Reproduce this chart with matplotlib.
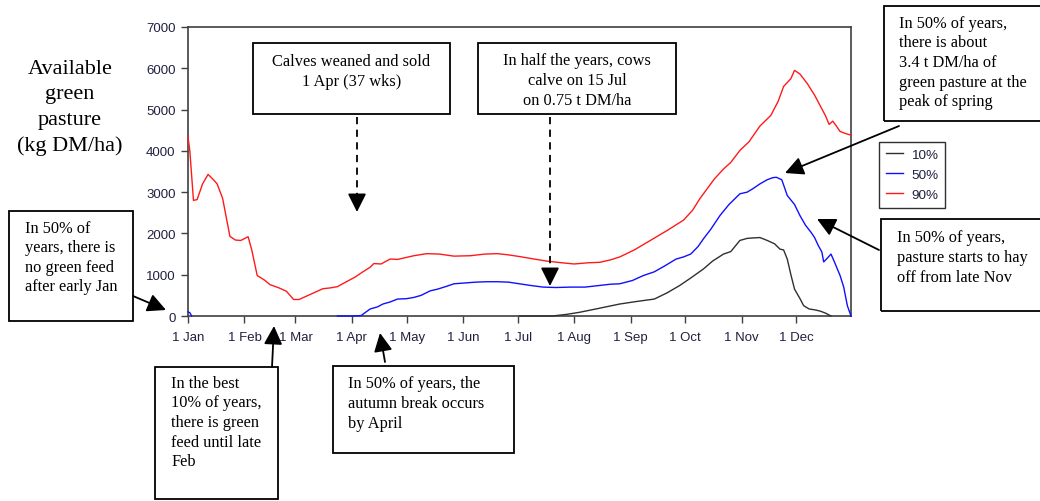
import numpy as np
import matplotlib
matplotlib.use("Agg")
import matplotlib.pyplot as plt
from matplotlib.patches import Rectangle, FancyArrowPatch
from matplotlib.lines import Line2D

# day of year (0 = 1 Jan) and available green pasture (kg DM/ha)
red_day = [0, 1, 3, 5, 8, 11, 14, 16, 19, 23, 26, 29, 33, 35, 38, 42, 45, 50, 54, 58,
           61, 65, 69, 74, 78, 82, 87, 92, 96, 100, 102, 106, 111, 115, 124, 131, 138, 146, 155, 163,
           170, 176, 182, 190, 197, 205, 212, 220, 226, 232, 237, 245, 255, 263, 272, 277, 281, 285, 289, 294,
           298, 303, 308, 314, 320, 324, 327, 331, 333, 336, 340, 344, 347, 350, 352, 354, 356, 358, 361, 364]
red_val = [4340, 4000, 2800, 2820, 3200, 3430, 3300, 3200, 2850, 1930, 1840, 1830, 1920, 1600, 980, 870, 760, 680, 600, 400,
           400, 480, 560, 660, 680, 710, 830, 950, 1070, 1180, 1270, 1260, 1380, 1370, 1460, 1510, 1500, 1450, 1460, 1500,
           1510, 1480, 1440, 1380, 1330, 1290, 1260, 1290, 1300, 1360, 1430, 1600, 1860, 2070, 2320, 2560, 2840, 3080, 3320, 3560,
           3720, 4010, 4220, 4600, 4860, 5200, 5560, 5750, 5950, 5860, 5630, 5350, 5100, 4850, 4640, 4720, 4600, 4470, 4420, 4380]

blue_day = [0, 1, 2, 3, 82, 90, 95, 100, 104, 107, 111, 115, 120, 124, 128, 133, 137, 142, 146, 152,
            158, 164, 170, 176, 182, 188, 195, 202, 210, 218, 226, 232, 237, 244, 250, 256, 262, 268, 272, 276,
            280, 283, 287, 292, 297, 303, 307, 310, 314, 318, 321, 323, 326, 329, 333, 336, 339, 342, 344, 346,
            348, 349, 351, 353, 355, 358, 360, 362, 364]
blue_val = [100, 80, 0, np.nan, 0, 0, 10, 170, 220, 290, 340, 410, 420, 450, 500, 610, 650, 720, 780, 800,
            820, 830, 830, 820, 780, 740, 700, 690, 700, 700, 740, 770, 780, 860, 980, 1070, 1220, 1380, 1430, 1500,
            1680, 1870, 2100, 2430, 2700, 2960, 3000, 3080, 3200, 3300, 3350, 3360, 3300, 2920, 2700, 2430, 2200, 2030, 1900, 1710,
            1550, 1310, 1400, 1500, 1300, 980, 700, 250, 0]

black_day = [182, 200, 208, 215, 225, 237, 246, 256, 263, 270, 276, 283, 288, 294, 298, 303, 307, 310, 314, 318,
             322, 325, 327, 329, 331, 333, 336, 338, 341, 344, 347, 350, 353]
black_val = [0, 0, 40, 90, 180, 290, 350, 410, 560, 740, 920, 1140, 1330, 1500, 1560, 1830, 1880, 1890, 1900, 1830,
             1750, 1620, 1600, 1380, 1000, 650, 420, 250, 170, 150, 120, 70, 0]

month_start = [0, 31, 59, 90, 120, 151, 181, 212, 243, 273, 304, 334]
month_labels = ["1 Jan", "1 Feb", "1 Mar", "1 Apr", "1 May", "1 Jun",
                "1 Jul", "1 Aug", "1 Sep", "1 Oct", "1 Nov", "1 Dec"]

W, H = 1040, 502
serif = "Liberation Serif"
sans = "Liberation Sans"

plt.rcParams["font.family"] = [sans, "DejaVu Sans"]
plt.rcParams["font.size"] = 9.5


def fx(px):
    return px / W


def fy(py):
    return 1 - py / H


fig = plt.figure(figsize=(10.4, 5.02), dpi=100)
ax = fig.add_axes([fx(188), fy(317), (851 - 188) / W, (317 - 28) / H])

ax.plot(black_day, black_val, color="#303030", lw=1.0, label="10%", zorder=3, clip_on=False)
ax.plot(blue_day, blue_val, color="#1010ff", lw=1.0, label="50%", zorder=3, clip_on=False)
ax.plot(red_day, red_val, color="#ff1a1a", lw=1.0, label="90%", zorder=3, clip_on=False)

ax.set_xlim(0, 364)
ax.set_ylim(0, 7000)
ax.set_yticks(range(0, 7001, 1000))
ax.set_xticks(month_start, month_labels)
ax.tick_params(length=5, width=1, color="#404040", pad=4, labelcolor="#202040",
               labelsize=9.5)
ax.tick_params(axis="x", pad=12.5)
for lab in ax.get_xticklabels():
    lab.set_verticalalignment("baseline")
for s in ax.spines.values():
    s.set_color("#404040")
    s.set_linewidth(1.2)

leg = fig.legend(loc="upper left", bbox_to_anchor=(fx(879), fy(143)), borderaxespad=0,
                 fancybox=False, edgecolor="#303030", framealpha=1,
                 prop={"family": sans, "size": 9.7}, handlelength=1.3,
                 handletextpad=0.6, labelspacing=0.55, borderpad=0.5)
leg.get_frame().set_linewidth(1.0)
for t in leg.get_texts():
    t.set_color("#202040")

fig.text(fx(70), fy(108), "Available\ngreen\npasture\n(kg DM/ha)", family=serif,
         fontsize=16, ha="center", va="center", linespacing=1.45)


def box(x0, y0, x1, y1):
    fig.add_artist(Rectangle((fx(x0), fy(y1)), (x1 - x0) / W, (y1 - y0) / H,
                             transform=fig.transFigure, fill=False,
                             edgecolor="black", lw=1.3, clip_on=False))


def note(x, y, s, ha="left"):
    fig.text(fx(x), fy(y), s, family=serif, fontsize=11.8, ha=ha, va="center",
             linespacing=1.3, multialignment=ha)


def arrow(x0, y0, x1, y1):
    fig.add_artist(FancyArrowPatch((fx(x0), fy(y0)), (fx(x1), fy(y1)),
                                   transform=fig.transFigure,
                                   arrowstyle="-|>,head_length=0.8,head_width=0.4",
                                   mutation_scale=14, color="black", lw=1.3,
                                   shrinkA=0, shrinkB=0))


def dashed_arrow(x, y0, y1):
    fig.add_artist(Line2D([fx(x), fx(x)], [fy(y0), fy(y1 - 12)], transform=fig.transFigure,
                          color="black", lw=1.3, dashes=(4, 3)))
    arrow(x, y1 - 14, x, y1)


box(253, 44, 450, 115)
note(351.5, 72, "Calves weaned and sold\n1 Apr (37 wks)", ha="center")
dashed_arrow(357, 118, 213)

box(478, 44, 676, 115)
note(577, 81, "In half the years, cows\ncalve on 15 Jul\non 0.75 t DM/ha", ha="center")
dashed_arrow(550, 118, 287)

box(884, 7, 1045, 122)
note(899, 63, "In 50% of years,\nthere is about\n3.4 t DM/ha of\ngreen pasture at the\npeak of spring")
arrow(899, 127, 785, 174)

box(881, 220, 1045, 312)
note(897, 258, "In 50% of years,\npasture starts to hay\noff from late Nov")
arrow(879, 251, 817, 220)

box(9, 212, 133, 322)
note(25, 258, "In 50% of\nyears, there is\nno green feed\nafter early Jan")
arrow(133, 297, 166, 311)

box(155, 368, 278, 500)
note(171, 423, "In the best\n10% of years,\nthere is green\nfeed until late\nFeb")
arrow(272, 368, 274, 327)

box(333, 367, 514, 454)
note(348, 404, "In 50% of years, the\nautumn break occurs\nby April")
arrow(385, 363, 380, 334)

fig.savefig("out.png", dpi=100)
